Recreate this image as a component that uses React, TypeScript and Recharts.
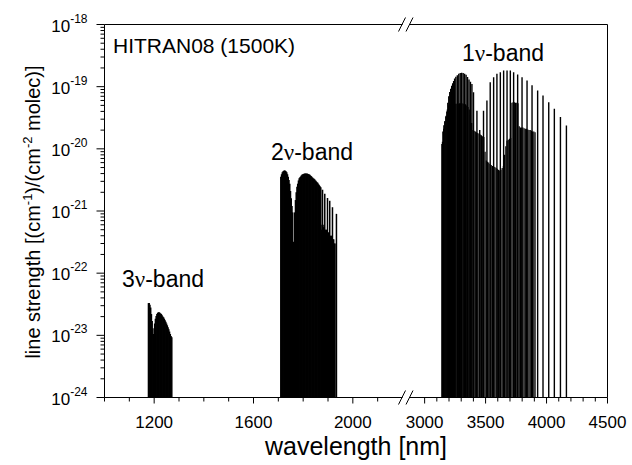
import React from "react";
import { ComposedChart, Scatter, ErrorBar, XAxis, YAxis } from "recharts";

const FLOOR = 1e-24;
const CEIL = 1e-18;

// y axis: decades and minor multipliers
const yDecades = [-24, -23, -22, -21, -20, -19, -18];
const yMinorSteps = [2, 3, 4, 5, 6, 7, 8, 9];

// x axis ticks (broken axis: two segments)
const leftDomain = [1000, 2200];
const rightDomain = [2880, 4500];
const leftMajorTicks = [1200, 1600, 2000];
const leftMinorTicks = [1000, 1100, 1300, 1400, 1500, 1700, 1800, 1900, 2100];
const rightMajorTicks = [3000, 3500, 4000, 4500];
const rightMinorTicks = [3100, 3200, 3300, 3400, 3600, 3700, 3800, 3900, 4100, 4200, 4300, 4400];

// 3ν band (nm, cm-1/(cm-2 molec))
const band3Wl = [1177, 1180, 1183, 1186, 1189, 1192, 1195, 1198, 1202, 1205, 1208, 1211, 1214, 1217, 1220, 1223, 1226, 1229, 1232, 1235, 1238, 1241, 1244, 1247, 1250, 1253, 1256, 1259, 1262, 1265, 1268, 1271];
const band3S = [3.3e-23, 3.3e-23, 3.1e-23, 2.8e-23, 2.2e-23, 1.7e-23, 1.3e-23, 1.05e-23, 1.55e-23, 1.85e-23, 2.05e-23, 2.2e-23, 2.3e-23, 2.35e-23, 2.35e-23, 2.3e-23, 2.25e-23, 2.2e-23, 2.1e-23, 2.0e-23, 1.95e-23, 1.85e-23, 1.75e-23, 1.65e-23, 1.55e-23, 1.45e-23, 1.35e-23, 1.25e-23, 1.15e-23, 1.05e-23, 9.8e-24, 9.3e-24];

// 2ν band
const band2Wl = [
  1710, 1713, 1716, 1719, 1722, 1725, 1728, 1731, 1734, 1737, 1740, 1743, 1746, 1749, 1752, 1755, 1758,
  1762,
  1766, 1769, 1772, 1775, 1778, 1781, 1784, 1787, 1790, 1793, 1796, 1799, 1802, 1805, 1808, 1811, 1814, 1817,
  1820, 1823, 1826, 1829, 1832, 1835, 1838, 1841, 1844, 1847, 1850, 1853, 1856, 1859, 1862, 1865, 1868, 1871,
  1874, 1876, 1878, 1880, 1883, 1885, 1887, 1889, 1892, 1895, 1898, 1900, 1903, 1905, 1907, 1909, 1912, 1915,
  1918, 1920, 1923, 1926, 1928, 1934,
];
const band2S = [
  3.55e-21, 3.9e-21, 4.2e-21, 4.35e-21, 4.45e-21, 4.5e-21, 4.45e-21, 4.35e-21, 4.2e-21, 3.9e-21, 3.55e-21, 3.15e-21, 2.75e-21, 2.1e-21, 1.6e-21, 1.2e-21, 9.5e-22,
  3.2e-22,
  9.5e-22, 1.5e-21, 2.0e-21, 2.45e-21, 2.75e-21, 3.1e-21, 3.35e-21, 3.5e-21, 3.6e-21, 3.75e-21, 3.85e-21, 3.9e-21, 3.95e-21, 4.0e-21, 4.0e-21, 4.0e-21, 4.0e-21, 4.0e-21,
  3.95e-21, 3.9e-21, 3.85e-21, 3.75e-21, 3.65e-21, 3.55e-21, 3.45e-21, 3.35e-21, 3.3e-21, 3.2e-21, 3.1e-21, 3.0e-21, 2.9e-21, 2.85e-21, 2.7e-21, 2.6e-21, 2.5e-21, 2.4e-21,
  5e-22, 6e-22, 2.2e-21, 6e-22, 5.5e-22, 5.5e-22, 1.9e-21, 5e-22, 5e-22, 5e-22, 1.62e-21, 4.5e-22, 4.5e-22, 4.5e-22, 1.46e-21, 4e-22, 4e-22, 4e-22,
  1.15e-21, 3.5e-22, 3.5e-22, 3e-22, 3e-22, 9.0e-22,
];

// 1ν band, strong lines
const band1MainWl = [
  3142, 3150, 3158, 3166, 3174, 3182, 3190, 3198, 3206, 3214, 3222, 3230, 3238, 3246,
  3256, 3268, 3280, 3292, 3304, 3316, 3328, 3340, 3352, 3364, 3376, 3388,
  3401, 3429, 3452,
  3483, 3511, 3538, 3566, 3593, 3621, 3648, 3676, 3703, 3730,
  3763, 3799, 3840, 3881, 3927, 3971, 4018, 4064, 4114, 4163,
];
const band1MainS = [
  1.2e-20, 1.9e-20, 2.4e-20, 2.8e-20, 3.3e-20, 4.0e-20, 5.5e-20, 7.0e-20, 8.2e-20, 9.3e-20, 1.03e-19, 1.13e-19, 1.23e-19, 1.35e-19,
  1.45e-19, 1.53e-19, 1.61e-19, 1.66e-19, 1.67e-19, 1.66e-19, 1.62e-19, 1.55e-19, 1.43e-19, 1.3e-19, 1.2e-19, 1.1e-19,
  8.1e-20, 4.1e-20, 2.0e-20,
  4.1e-20, 6.0e-20, 1.18e-19, 1.42e-19, 1.61e-19, 1.71e-19, 1.82e-19, 1.82e-19, 1.82e-19, 1.71e-19,
  1.57e-19, 1.42e-19, 1.26e-19, 1.05e-19, 8.7e-20, 7.2e-20, 5.6e-20, 4.4e-20, 3.25e-20, 2.37e-20,
];

// 1ν band, weaker lines filling the lower part
const band1WeakWl = [
  3146, 3156, 3166, 3176, 3186, 3196, 3206, 3216, 3226, 3236, 3246, 3256, 3266, 3276, 3286, 3296, 3306,
  3316, 3326, 3336, 3346, 3356, 3366, 3376, 3386, 3396,
  3406, 3416, 3426, 3436, 3446, 3456, 3466, 3476, 3486,
  3496, 3506, 3516, 3526, 3536, 3546, 3556, 3566, 3576, 3586, 3596, 3606, 3616, 3626, 3636, 3646,
  3656, 3666, 3676, 3686, 3696, 3706,
  3716, 3726, 3736, 3746, 3756, 3766,
  3776, 3786, 3796, 3806, 3816, 3826, 3836, 3846, 3856, 3866, 3876, 3886, 3896, 3906,
];
const band1WeakS = [
  1.3e-20, 2.1e-20, 2.7e-20, 3.4e-20, 4.3e-20, 5.0e-20, 5.3e-20, 5.3e-20, 5.3e-20, 5.3e-20, 5.3e-20, 5.3e-20, 5.3e-20, 5.3e-20, 5.4e-20, 5.4e-20, 5.4e-20,
  5.3e-20, 5.3e-20, 5.2e-20, 5.0e-20, 4.7e-20, 4.3e-20, 3.5e-20, 2.6e-20, 2.0e-20,
  1.95e-20, 1.9e-20, 1.85e-20, 1.8e-20, 1.75e-20, 1.7e-20, 1.65e-20, 1.6e-20, 1.55e-20,
  9.0e-21, 6.5e-21, 6.2e-21, 6.0e-21, 5.7e-21, 5.5e-21, 5.3e-21, 5.2e-21, 5.1e-21, 4.9e-21, 4.8e-21, 4.6e-21, 4.5e-21, 4.6e-21, 4.9e-21, 5.3e-21,
  8.0e-21, 1.1e-20, 1.35e-20, 1.4e-20, 1.45e-20, 1.5e-20,
  5.5e-20, 5.6e-20, 5.6e-20, 5.5e-20, 5.5e-20, 5.4e-20,
  2.3e-20, 2.2e-20, 2.2e-20, 2.2e-20, 2.15e-20, 2.1e-20, 2.1e-20, 2.05e-20, 2.0e-20, 2.0e-20, 1.95e-20, 1.9e-20, 1.9e-20, 1.85e-20,
];

// page layout
const W = 632;
const H = 465;
const TOP = 24.5;
const BOTTOM = 397.5;
const X0 = 104.5;
const BREAK_L = 402.5;
const BREAK_R = 410;
const X1 = 607.5;
const X_AXIS_H = 50;
const RIGHT_PAD = 40;

const SANS = "'Liberation Sans', Arial, Helvetica, sans-serif";
const SERIF = "'Liberation Serif', 'Times New Roman', serif";

const toSticks = (wl: number[], s: number[]) =>
  wl.map((w, i) => ({ wl: w, s: s[i], err: [s[i] - FLOOR, 0] }));

const band3 = toSticks(band3Wl, band3S);
const band2 = toSticks(band2Wl, band2S);
const band1Main = toSticks(band1MainWl, band1MainS);
const band1Weak = toSticks(band1WeakWl, band1WeakS);

const yTicks = yDecades.flatMap((e) => [
  Math.pow(10, e),
  ...(e < -18 ? yMinorSteps.map((m) => m * Math.pow(10, e)) : []),
]);

const noShape = () => <g />;

const YTick = (props: any) => {
  const { x, y, payload } = props;
  const lg = Math.log10(payload.value);
  const exp = Math.round(lg);
  const major = Math.abs(lg - exp) < 1e-6;
  return (
    <g>
      <line x1={x} x2={x - (major ? 8 : 4)} y1={y} y2={y} stroke="#000" />
      {major && (
        <text x={x - 17} y={y + 7} textAnchor="end" fontSize={17} fontFamily={SANS} fill="#000">
          10<tspan dy={-9} fontSize={12}>{exp}</tspan>
        </text>
      )}
    </g>
  );
};

const makeXTick = (majors: number[]) => (props: any) => {
  const { x, y, payload } = props;
  const major = majors.includes(payload.value);
  return (
    <g>
      <line x1={x} x2={x} y1={y} y2={y + (major ? 6 : 4)} stroke="#000" />
      {major && (
        <text x={x} y={y + 30} textAnchor="middle" fontSize={17} fontFamily={SANS} fill="#000">
          {payload.value}
        </text>
      )}
    </g>
  );
};

const stickBars = (width: number) => (
  <ErrorBar dataKey="err" direction="y" width={0} stroke="#000" strokeWidth={width} isAnimationActive={false} />
);

const Slashes = ({ y }: { y: number }) => (
  <g stroke="#000" strokeWidth={1}>
    <line x1={398.5} y1={y + 7} x2={405.5} y2={y - 7} />
    <line x1={406} y1={y + 7} x2={413} y2={y - 7} />
  </g>
);

export default function App() {
  const leftW = BREAK_L;
  const rightW = W - BREAK_R + RIGHT_PAD;
  const margin = { top: TOP, bottom: H - BOTTOM - X_AXIS_H };
  return (
    <div style={{ position: "absolute", left: 0, top: 0, width: W, height: H, background: "#fff" }}>
      <div style={{ position: "absolute", left: 0, top: 0 }}>
        <ComposedChart width={leftW} height={H} margin={{ ...margin, right: 0, left: 0 }}>
          <XAxis
            type="number"
            dataKey="wl"
            domain={leftDomain}
            allowDataOverflow
            ticks={[...leftMajorTicks, ...leftMinorTicks]}
            interval={0}
            tickSize={0}
            tickMargin={0}
            tickLine={false}
            height={X_AXIS_H}
            axisLine={{ stroke: "#000" }}
            tick={makeXTick(leftMajorTicks)}
          />
          <YAxis
            type="number"
            dataKey="s"
            scale="log"
            domain={[FLOOR, CEIL]}
            allowDataOverflow
            ticks={yTicks}
            interval={0}
            tickSize={0}
            tickMargin={0}
            tickLine={false}
            width={X0}
            axisLine={{ stroke: "#000" }}
            tick={<YTick />}
          />
          <Scatter data={band3} isAnimationActive={false} shape={noShape}>
            {stickBars(1.5)}
          </Scatter>
          <Scatter data={band2} isAnimationActive={false} shape={noShape}>
            {stickBars(1.5)}
          </Scatter>
        </ComposedChart>
      </div>
      <div style={{ position: "absolute", left: BREAK_R - RIGHT_PAD, top: 0 }}>
        <ComposedChart width={rightW} height={H} margin={{ ...margin, right: W - X1, left: RIGHT_PAD }}>
          <XAxis
            type="number"
            dataKey="wl"
            domain={rightDomain}
            allowDataOverflow
            ticks={[...rightMajorTicks, ...rightMinorTicks]}
            interval={0}
            tickSize={0}
            tickMargin={0}
            tickLine={false}
            height={X_AXIS_H}
            axisLine={{ stroke: "#000" }}
            tick={makeXTick(rightMajorTicks)}
          />
          <YAxis type="number" dataKey="s" scale="log" domain={[FLOOR, CEIL]} allowDataOverflow hide />
          <Scatter data={band1Weak} isAnimationActive={false} shape={noShape}>
            {stickBars(1.2)}
          </Scatter>
          <Scatter data={band1Main} isAnimationActive={false} shape={noShape}>
            {stickBars(1.4)}
          </Scatter>
        </ComposedChart>
      </div>
      <svg
        width={W}
        height={H}
        style={{ position: "absolute", left: 0, top: 0, pointerEvents: "none" }}
        fontFamily={SANS}
        fill="#000"
      >
        <g stroke="#000" strokeWidth={1}>
          <line x1={X0} y1={TOP} x2={BREAK_L} y2={TOP} />
          <line x1={BREAK_R} y1={TOP} x2={X1} y2={TOP} />
          <line x1={X1} y1={TOP} x2={X1} y2={BOTTOM} />
        </g>
        <Slashes y={TOP} />
        <Slashes y={BOTTOM} />
        <text x={113} y={53} fontSize={21}>HITRAN08 (1500K)</text>
        <text x={122} y={287} fontSize={23}>
          3<tspan fontFamily={SERIF}>ν</tspan>-band
        </text>
        <text x={271} y={160} fontSize={23}>
          2<tspan fontFamily={SERIF}>ν</tspan>-band
        </text>
        <text x={462} y={61} fontSize={23}>
          1<tspan fontFamily={SERIF}>ν</tspan>-band
        </text>
        <text x={356} y={455} fontSize={25} textAnchor="middle">wavelength [nm]</text>
        <text transform="translate(40,212) rotate(-90)" fontSize={20} textAnchor="middle">
          line strength [(cm<tspan dy={-8} fontSize={13}>-1</tspan>
          <tspan dy={8}>)/(cm</tspan>
          <tspan dy={-8} fontSize={13}>-2</tspan>
          <tspan dy={8}> molec)]</tspan>
        </text>
      </svg>
    </div>
  );
}
